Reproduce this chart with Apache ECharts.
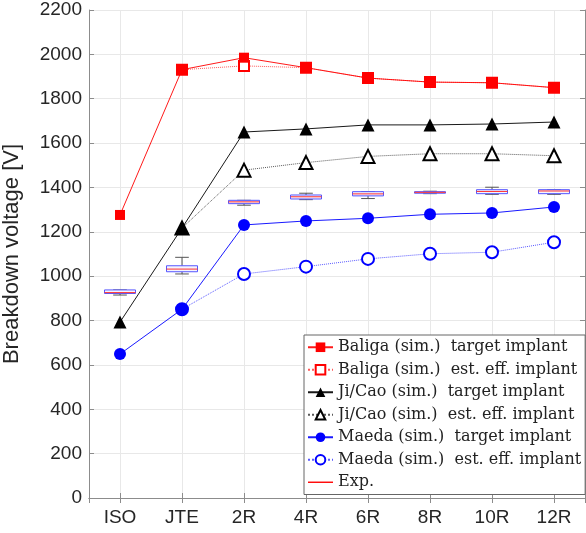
<!DOCTYPE html>
<html>
<head>
<meta charset="utf-8">
<script src="https://cdn.jsdelivr.net/npm/echarts@6/dist/echarts.min.js"></script>
<style>
  html, body { margin: 0; padding: 0; background: #fff; }
  #main { width: 586px; height: 533px; }
</style>
</head>
<body>
<div id="main"></div>
<script>
// categories on the x axis
const categories = ['ISO', 'JTE', '2R', '4R', '6R', '8R', '10R', '12R'];
// simulated breakdown voltages [V]
const baligaTarget = [1276, 1931, 1985, 1940, 1893, 1875, 1872, 1850];
const baligaEst = [null, 1931, 1948, 1940, 1893, 1875, 1872, 1850];
const jiCaoTarget = [793, 1217, 1650, 1664, 1682, 1682, 1686, 1695];
const jiCaoEst = [null, 1217, 1478, 1512, 1540, 1552, 1552, 1543];
const maedaTarget = [649, 851, 1231, 1249, 1261, 1279, 1285, 1312];
const maedaEst = [null, 851, 1010, 1043, 1078, 1101, 1108, 1153];
// experiment boxplot: [low whisker, q1, median, q3, high whisker]
const expBox = [
  [915, 922, 926, 938, 938],
  [1010, 1020, 1032, 1047, 1085],
  [1320, 1327, 1335, 1342, 1342],
  [1345, 1348, 1358, 1366, 1374],
  [1350, 1362, 1371, 1381, 1381],
  [1372, 1374, 1378, 1381, 1383],
  [1369, 1372, 1382, 1390, 1401],
  [1369, 1372, 1384, 1390, 1390]
];

const toXY = (arr) => arr.map((v, i) => [i + 1, v]);

const myChart = echarts.init(document.getElementById('main'));

const axisColor = '#8c8c8c';
const gridColor = '#e8e8e8';
const labelFont = 'Liberation Sans, Arial, sans-serif';

const lineSeries = (name, data, color, symbol, size, dotted) => ({
  name: name,
  type: 'line',
  data: toXY(data),
  symbol: symbol,
  symbolSize: size,
  connectNulls: false,
  z: dotted ? 3 : 4,
  itemStyle: { color: color, borderWidth: 1 },
  lineStyle: {
    color: color,
    width: 1,
    type: dotted ? 'dotted' : 'solid',
    opacity: dotted ? 0.65 : 0.9
  }
});

// boxplot drawn with the axes' own coordinate mapping
const renderBox = (params, api) => {
  const x = api.value(0);
  const lo = api.coord([x, api.value(1)]);
  const q1 = api.coord([x, api.value(2)]);
  const med = api.coord([x, api.value(3)]);
  const q3 = api.coord([x, api.value(4)]);
  const hi = api.coord([x, api.value(5)]);
  const band = api.size([1, 0])[0];
  const half = band * 0.25;
  const cap = band * 0.11;
  const cx = lo[0];
  const wStyle = { stroke: '#555', lineWidth: 1 };
  return {
    type: 'group',
    children: [
      { type: 'line', shape: { x1: cx, y1: lo[1], x2: cx, y2: q1[1] }, style: wStyle },
      { type: 'line', shape: { x1: cx, y1: q3[1], x2: cx, y2: hi[1] }, style: wStyle },
      { type: 'line', shape: { x1: cx - cap, y1: lo[1], x2: cx + cap, y2: lo[1] }, style: wStyle },
      { type: 'line', shape: { x1: cx - cap, y1: hi[1], x2: cx + cap, y2: hi[1] }, style: wStyle },
      {
        type: 'rect',
        shape: { x: cx - half, y: q3[1], width: half * 2, height: Math.max(q1[1] - q3[1], 1) },
        style: { fill: '#f4f4ff', stroke: '#5555ff', lineWidth: 1 }
      },
      { type: 'line', shape: { x1: cx - half, y1: med[1], x2: cx + half, y2: med[1] }, style: { stroke: '#ff3030', lineWidth: 1 } }
    ]
  };
};

const options = {
  animation: false,
  backgroundColor: '#fff',
  grid: { left: 89, right: 1, top: 10, bottom: 35, containLabel: false, outerBoundsMode: 'none' },
  legend: {
    data: [
      'Baliga (sim.)  target implant',
      'Baliga (sim.)  est. eff. implant',
      'Ji/Cao (sim.)  target implant',
      'Ji/Cao (sim.)  est. eff. implant',
      'Maeda (sim.)  target implant',
      'Maeda (sim.)  est. eff. implant',
      { name: 'Exp.', icon: 'path://M0,0H25V1.4H0Z' }
    ],
    orient: 'vertical',
    left: 304,
    top: 335,
    padding: [1, 4, 1, 3],
    itemGap: 0,
    itemWidth: 25,
    itemHeight: 12,
    selectedMode: false,
    backgroundColor: '#fff',
    borderColor: '#666',
    borderWidth: 1,
    borderRadius: 0,
    textStyle: {
      fontFamily: 'DejaVu Serif, serif',
      fontSize: 16,
      lineHeight: 22.5,
      color: '#222'
    }
  },
  xAxis: [
    {
      type: 'value',
      min: 0.5,
      max: 8.5,
      splitNumber: 8,
      axisLine: { show: true, lineStyle: { color: axisColor, width: 1 } },
      axisTick: { show: true, inside: true, length: 5, lineStyle: { color: axisColor } },
      splitLine: { show: true, lineStyle: { color: gridColor, width: 1 } },
      axisLabel: {
        color: '#262626',
        fontSize: 19,
        fontFamily: labelFont,
        margin: 10,
        showMinLabel: true,
        showMaxLabel: true,
        formatter(value) {
          return Number.isInteger(value) ? categories[value - 1] || '' : '';
        }
      }
    },
    {
      type: 'value',
      position: 'top',
      min: 0.5,
      max: 8.5,
      splitNumber: 8,
      axisLine: { show: true, lineStyle: { color: axisColor, width: 1 } },
      axisTick: { show: true, inside: true, length: 5, lineStyle: { color: axisColor } },
      splitLine: { show: false },
      axisLabel: { show: false }
    }
  ],
  yAxis: [
    {
      type: 'value',
      min: 0,
      max: 2200,
      interval: 200,
      name: 'Breakdown voltage [V]',
      nameLocation: 'middle',
      nameGap: 66,
      nameTextStyle: { color: '#262626', fontSize: 22, fontFamily: labelFont },
      axisLine: { show: true, lineStyle: { color: axisColor, width: 1 } },
      axisTick: { show: true, inside: true, length: 5, lineStyle: { color: axisColor } },
      splitLine: { show: true, lineStyle: { color: gridColor, width: 1 } },
      axisLabel: {
        color: '#262626',
        fontSize: 19,
        fontFamily: labelFont,
        margin: 7,
        formatter(value) {
          return String(value);
        }
      }
    },
    {
      type: 'value',
      position: 'right',
      min: 0,
      max: 2200,
      interval: 200,
      axisLine: { show: true, lineStyle: { color: axisColor, width: 1 } },
      axisTick: { show: true, inside: true, length: 5, lineStyle: { color: axisColor } },
      splitLine: { show: false },
      axisLabel: { show: false }
    }
  ],
  series: [
    {
      name: 'expBox',
      type: 'custom',
      renderItem: renderBox,
      data: expBox.map((b, i) => [i + 1].concat(b)),
      encode: { x: 0, y: [1, 2, 3, 4, 5] },
      z: 2
    },
    lineSeries('Baliga (sim.)  est. eff. implant', baligaEst, '#ff0000', 'emptyRect', 10, true),
    lineSeries('Ji/Cao (sim.)  est. eff. implant', jiCaoEst, '#000000', 'emptyTriangle', 13, true),
    lineSeries('Maeda (sim.)  est. eff. implant', maedaEst, '#0000ff', 'emptyCircle', 12, true),
    lineSeries('Baliga (sim.)  target implant', baligaTarget, '#ff0000', 'rect', 10, false),
    lineSeries('Ji/Cao (sim.)  target implant', jiCaoTarget, '#000000', 'triangle', 13, false),
    lineSeries('Maeda (sim.)  target implant', maedaTarget, '#0000ff', 'circle', 12, false),
    {
      name: 'Exp.',
      type: 'line',
      data: [],
      symbol: 'none',
      itemStyle: { color: '#ff0000' },
      lineStyle: { color: '#ff0000', width: 1.5 }
    }
  ]
};

myChart.setOption(options);
window.onresize = function () {
  myChart.resize();
};
</script>
</body>
</html>
